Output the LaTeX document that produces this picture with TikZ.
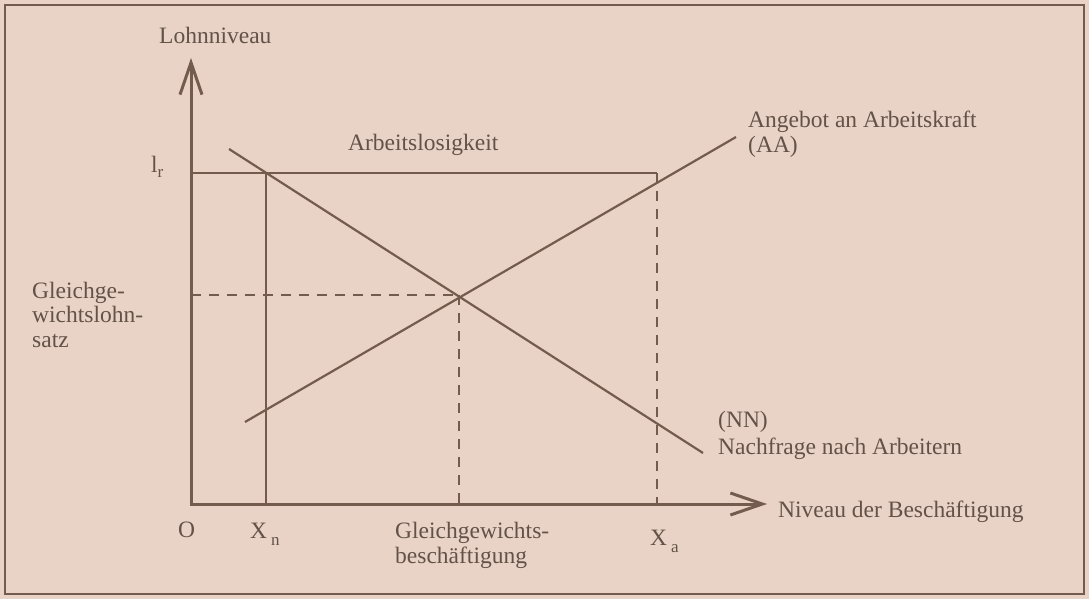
\documentclass[tikz,border=0pt]{standalone}
\usepackage{fontspec}
\setmainfont{Liberation Serif}
\usetikzlibrary{arrows.meta}
\definecolor{bg}{RGB}{233,211,198}
\definecolor{ink}{RGB}{115,92,78}
\definecolor{txt}{RGB}{100,82,72}
\newcommand{\subtxt}[2]{\raisebox{-#1}{\fontsize{17}{17}\selectfont #2}}
\begin{document}
\begin{tikzpicture}[x=1pt,y=-1pt,
  lbl/.style={text=txt, font=\fontsize{23.5}{24.5}\selectfont, inner sep=0pt, anchor=base west, align=left},
  axisline/.style={draw=ink, line width=3pt, line join=miter,
    {Straight Barb[length=32pt,width=22pt,line width=3pt]}-{Straight Barb[length=32pt,width=22pt,line width=3pt]}},
  curveline/.style={draw=ink, line width=2.2pt},
  guideline/.style={draw=ink, line width=2.2pt},
  dashline/.style={draw=ink, line width=2.5pt, dash pattern=on 10pt off 8pt}]
\useasboundingbox (0,0) rectangle (1089,599);
\fill[bg] (0,0) rectangle (1089,599);
\draw[ink, line width=2pt] (5,5) rectangle (1084,594);
% coordinates
\coordinate (O) at (191,504);
\coordinate (ytip) at (191,58);
\coordinate (xtip) at (767,504);
\coordinate (lrL) at (191,173);
\coordinate (lrR) at (657,173);
\coordinate (xaB) at (657,504);
\coordinate (xnT) at (266,173);
\coordinate (xnB) at (266,504);
\coordinate (E) at (459,295);
\coordinate (eqL) at (191,295);
\coordinate (eqB) at (459,504);
\coordinate (nn1) at (229,149);
\coordinate (nn2) at (703,453);
\coordinate (aa1) at (245,422);
\coordinate (aa2) at (736,137);
% guides
\draw[guideline] (lrL) -- (lrR);
\draw[guideline] (xnT) -- (xnB);
\draw[dashline] (lrR) -- (xaB);
\draw[dashline] (eqL) -- (E);
\draw[dashline] (E) -- (eqB);
% curves
\draw[curveline] (nn1) -- (nn2);
\draw[curveline] (aa1) -- (aa2);
% axes
\draw[axisline] (ytip) -- (O) -- (xtip);
% labels (base = baseline of last line)
\node[lbl] (ylab) at (159,44) {Lohnniveau};
\node[lbl] (lr) at (151,172) {l\subtxt{5pt}{r}};
\node[lbl] (arb) at (348,150) {Arbeitslosigkeit};
\node[lbl] (aa) at (748,152) {Angebot an Arbeitskraft\\(AA)};
\node[lbl] (nn) at (718,454) {(NN)\\[2pt]Nachfrage nach Arbeitern};
\node[lbl] (xlab) at (778,517) {Niveau der Beschäftigung};
\node[lbl] (gl) at (32,347) {Gleichge-\\wichtslohn-\\satz};
\node[lbl] (o) at (178,537) {O};
\node[lbl] (xn) at (250,538) {X\hspace{4pt}\subtxt{7pt}{n}};
\node[lbl] (gb) at (395,563) {Gleichgewichts-\\beschäftigung};
\node[lbl] (xa) at (650,545) {X\hspace{4pt}\subtxt{7pt}{a}};
\end{tikzpicture}
\end{document}
